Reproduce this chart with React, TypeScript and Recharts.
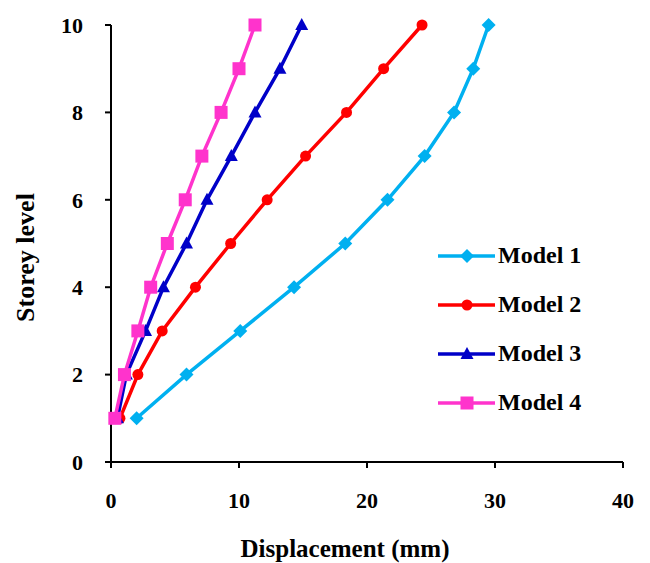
// Storey drift profile: displacement vs storey level for four models

import React from 'react';
import { ScatterChart, Scatter, XAxis, YAxis, Label } from 'recharts';

const storeyLevels = [1, 2, 3, 4, 5, 6, 7, 8, 9, 10];
const model1Disp = [2.0, 5.9, 10.1, 14.3, 18.3, 21.6, 24.5, 26.8, 28.3, 29.5];
const model2Disp = [0.7, 2.1, 4.0, 6.6, 9.35, 12.2, 15.2, 18.4, 21.3, 24.3];
const model3Disp = [0.5, 1.2, 2.7, 4.1, 5.9, 7.5, 9.4, 11.25, 13.2, 14.9];
const model4Disp = [0.3, 1.05, 2.1, 3.1, 4.4, 5.8, 7.1, 8.6, 10.0, 11.25];
const xTicks = [0, 10, 20, 30, 40];
const yTicks = [0, 2, 4, 6, 8, 10];

const toPoints = (disp: number[]) => disp.map((d, i) => ({ x: d, y: storeyLevels[i] }));

type MarkerKind = 'diamond' | 'circle' | 'triangle' | 'square';

const Marker = ({ kind, cx, cy, color }: { kind: MarkerKind; cx: number; cy: number; color: string }) => {
  if (kind === 'circle') return <circle cx={cx} cy={cy} r={5.5} fill={color} />;
  if (kind === 'square') return <rect x={cx - 6.5} y={cy - 6.5} width={13} height={13} fill={color} />;
  if (kind === 'triangle')
    return <polygon points={`${cx},${cy - 7} ${cx + 6.5},${cy + 5} ${cx - 6.5},${cy + 5}`} fill={color} />;
  return <polygon points={`${cx},${cy - 7} ${cx + 7},${cy} ${cx},${cy + 7} ${cx - 7},${cy}`} fill={color} />;
};

const series: { name: string; disp: number[]; color: string; kind: MarkerKind }[] = [
  { name: 'Model 1', disp: model1Disp, color: '#00B0F0', kind: 'diamond' },
  { name: 'Model 2', disp: model2Disp, color: '#FF0000', kind: 'circle' },
  { name: 'Model 3', disp: model3Disp, color: '#0000C8', kind: 'triangle' },
  { name: 'Model 4', disp: model4Disp, color: '#FF33CC', kind: 'square' },
];

const font = '"Liberation Serif", "Times New Roman", serif';
const tickStyle = { fill: '#000', fontFamily: font, fontWeight: 'bold', fontSize: 22 };

// legend sits inside the plot area, drawn as an overlay so it doesn't steal chart space
const LegendBox = () => (
  <div
    style={{
      position: 'absolute',
      left: 438,
      top: 231,
      fontFamily: font,
      fontWeight: 'bold',
      fontSize: 24,
      color: '#000',
    }}
  >
    {series.map((s) => (
      <div key={s.name} style={{ display: 'flex', alignItems: 'center', height: 49 }}>
        <svg width={60} height={16}>
          <line x1={0} y1={8} x2={57} y2={8} stroke={s.color} strokeWidth={3.5} />
          <Marker kind={s.kind} cx={29} cy={8} color={s.color} />
        </svg>
        <span>{s.name}</span>
      </div>
    ))}
  </div>
);

// y label is a bit below the plot's middle in the original
const YTitle = (props: any) => {
  const { viewBox } = props;
  const x = viewBox.x + 25;
  const y = viewBox.y + viewBox.height / 2 + 14;
  return (
    <text
      x={x}
      y={y}
      transform={`rotate(-90, ${x}, ${y})`}
      textAnchor="middle"
      dominantBaseline="central"
      fill="#000"
      fontFamily={font}
      fontWeight="bold"
      fontSize={26}
    >
      Storey level
    </text>
  );
};

export default function App() {
  return (
    <div style={{ position: 'absolute', left: 0, top: 0, width: 650, height: 563, background: '#fff' }}>
      <ScatterChart width={650} height={563} margin={{ top: 25, right: 27, left: 0, bottom: 0 }}>
        <XAxis
          type="number"
          dataKey="x"
          domain={[0, 40]}
          ticks={xTicks}
          height={101}
          stroke="#000"
          strokeWidth={2}
          tickSize={6}
          tickMargin={24}
          tick={tickStyle}
        >
          <Label
            value="Displacement (mm)"
            position="insideBottom"
            offset={6}
            dx={-22}
            style={{ fill: '#000', fontFamily: font, fontWeight: 'bold', fontSize: 25 }}
          />
        </XAxis>
        <YAxis
          type="number"
          dataKey="y"
          domain={[0, 10]}
          ticks={yTicks}
          width={111}
          stroke="#000"
          strokeWidth={2}
          tickSize={6}
          tickMargin={22}
          tick={tickStyle}
        >
          <Label content={YTitle} />
        </YAxis>
        {series.map((s) => (
          <Scatter
            key={s.name}
            name={s.name}
            data={toPoints(s.disp)}
            fill={s.color}
            line={{ stroke: s.color, strokeWidth: 3.5 }}
            lineType="joint"
            isAnimationActive={false}
            shape={(p: any) => <Marker kind={s.kind} cx={p.cx} cy={p.cy} color={s.color} />}
          />
        ))}
      </ScatterChart>
      <LegendBox />
    </div>
  );
}
